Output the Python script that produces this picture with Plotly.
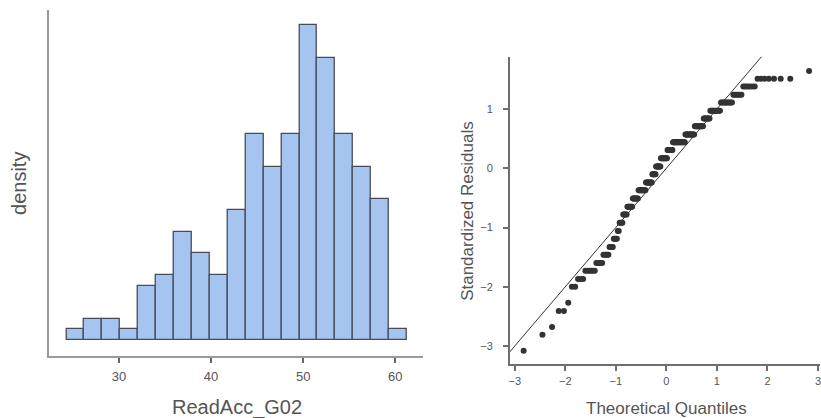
import plotly.graph_objects as go
from statistics import NormalDist

# ---- Histogram data (ReadAcc_G02) ----
bin_start = 24.29
bin_width = 1.946
hist_counts = [1, 2, 2, 1, 5, 6, 10, 8, 6, 12, 19, 16, 19, 29, 26, 19, 16, 13, 1]
hist_xticks = [30, 40, 50, 60]

# ---- Q-Q data (standardized residual levels and how many points sit on each) ----
resid_levels = [-3.08, -2.81, -2.68, -2.41, -2.27, -2.00, -1.87, -1.73, -1.60, -1.46,
                -1.33, -1.19, -1.06, -0.92, -0.78, -0.65, -0.51, -0.37, -0.24, -0.10,
                0.03, 0.17, 0.31, 0.44, 0.57, 0.71, 0.84, 0.97, 1.11, 1.24,
                1.38, 1.51, 1.64]
resid_counts = [1, 1, 1, 2, 1, 2, 3, 6, 5, 5,
                4, 4, 2, 4, 5, 7, 8, 11, 10, 6,
                8, 11, 9, 20, 14, 12, 8, 11, 10, 6,
                6, 7, 1]
qq_xticks = [-3, -2, -1, 0, 1, 2, 3]
qq_yticks = [-3, -2, -1, 0, 1]

# derived
centers = [bin_start + bin_width * (i + 0.5) for i in range(len(hist_counts))]
resid = []
for lv, c in zip(resid_levels, resid_counts):
    resid += [lv] * c
n = len(resid)
nd = NormalDist()
theo = [nd.inv_cdf((i + 0.5) / n) for i in range(n)]

W, H = 821, 418
FONT = "Liberation Sans, Arial, Helvetica, sans-serif"
AX_L = "#9a9a9a"
AX_R = "#6e6e6e"
TXT = "#555555"

fig = go.Figure()
fig.add_trace(go.Bar(
    x=centers, y=hist_counts, width=[bin_width] * len(hist_counts),
    marker=dict(color="#a6c4f0", line=dict(color="#474d58", width=1.3)),
    xaxis="x", yaxis="y", showlegend=False, hoverinfo="skip"))

lim = [min(qq_xticks) - 2, max(qq_xticks) + 2]
fig.add_trace(go.Scatter(
    x=lim, y=lim, mode="lines", line=dict(color="#333333", width=1),
    xaxis="x2", yaxis="y2", showlegend=False, hoverinfo="skip"))
fig.add_trace(go.Scatter(
    x=theo, y=resid, mode="markers",
    marker=dict(color="#333333", size=6, line=dict(width=0)),
    xaxis="x2", yaxis="y2", showlegend=False, hoverinfo="skip"))

def px_x(p):
    return p / W

def px_y(p):
    return (H - p) / H

def axstyle(line_col, tick_col):
    return dict(showgrid=False, zeroline=False, showline=True, linecolor=line_col,
                linewidth=1.5, ticks="outside", tickcolor=tick_col, tickwidth=1.5,
                ticklen=5)

def ann(text, x, y, size, angle=0):
    return dict(text=text, x=px_x(x), y=px_y(y), xref="paper", yref="paper",
                xanchor="center", yanchor="middle", textangle=angle,
                showarrow=False, font=dict(family=FONT, size=size, color=TXT))

fig.update_layout(
    width=W, height=H, margin=dict(l=0, r=0, t=0, b=0),
    paper_bgcolor="white", plot_bgcolor="white", bargap=0,
    font=dict(family=FONT, color=TXT),
    xaxis=dict(domain=[px_x(48), px_x(423)], range=[22.39, 63.0], anchor="y",
               tickvals=hist_xticks, ticklabelstandoff=3,
               tickfont=dict(family=FONT, color=TXT, size=13), **axstyle(AX_L, "#666666")),
    yaxis=dict(domain=[px_y(356), px_y(10)], range=[-1.446, 30.41], anchor="x",
               showgrid=False, zeroline=False, showline=True, linecolor=AX_L,
               linewidth=1.5, showticklabels=False, ticks=""),
    xaxis2=dict(domain=[px_x(510), 1.0], range=[-3.099, 3.04], anchor="y2",
                tickvals=qq_xticks, ticklabelstandoff=1, ticklabeloverflow="allow",
                tickfont=dict(family=FONT, color=TXT, size=11), **axstyle(AX_R, AX_R)),
    yaxis2=dict(domain=[px_y(364.3), px_y(56.7)], range=[-3.309, 1.883], anchor="x2",
                tickvals=qq_yticks, ticklabelstandoff=8,
                tickfont=dict(family=FONT, color=TXT, size=11), **axstyle(AX_R, AX_R)),
    annotations=[
        ann("density", 18, 183, 20, -90),
        ann("ReadAcc_G02", 237, 407, 20),
        ann("Standardized Residuals", 467, 211, 17, -90),
        ann("Theoretical Quantiles", 667, 408, 17),
    ],
)

fig.write_html("out.html")
